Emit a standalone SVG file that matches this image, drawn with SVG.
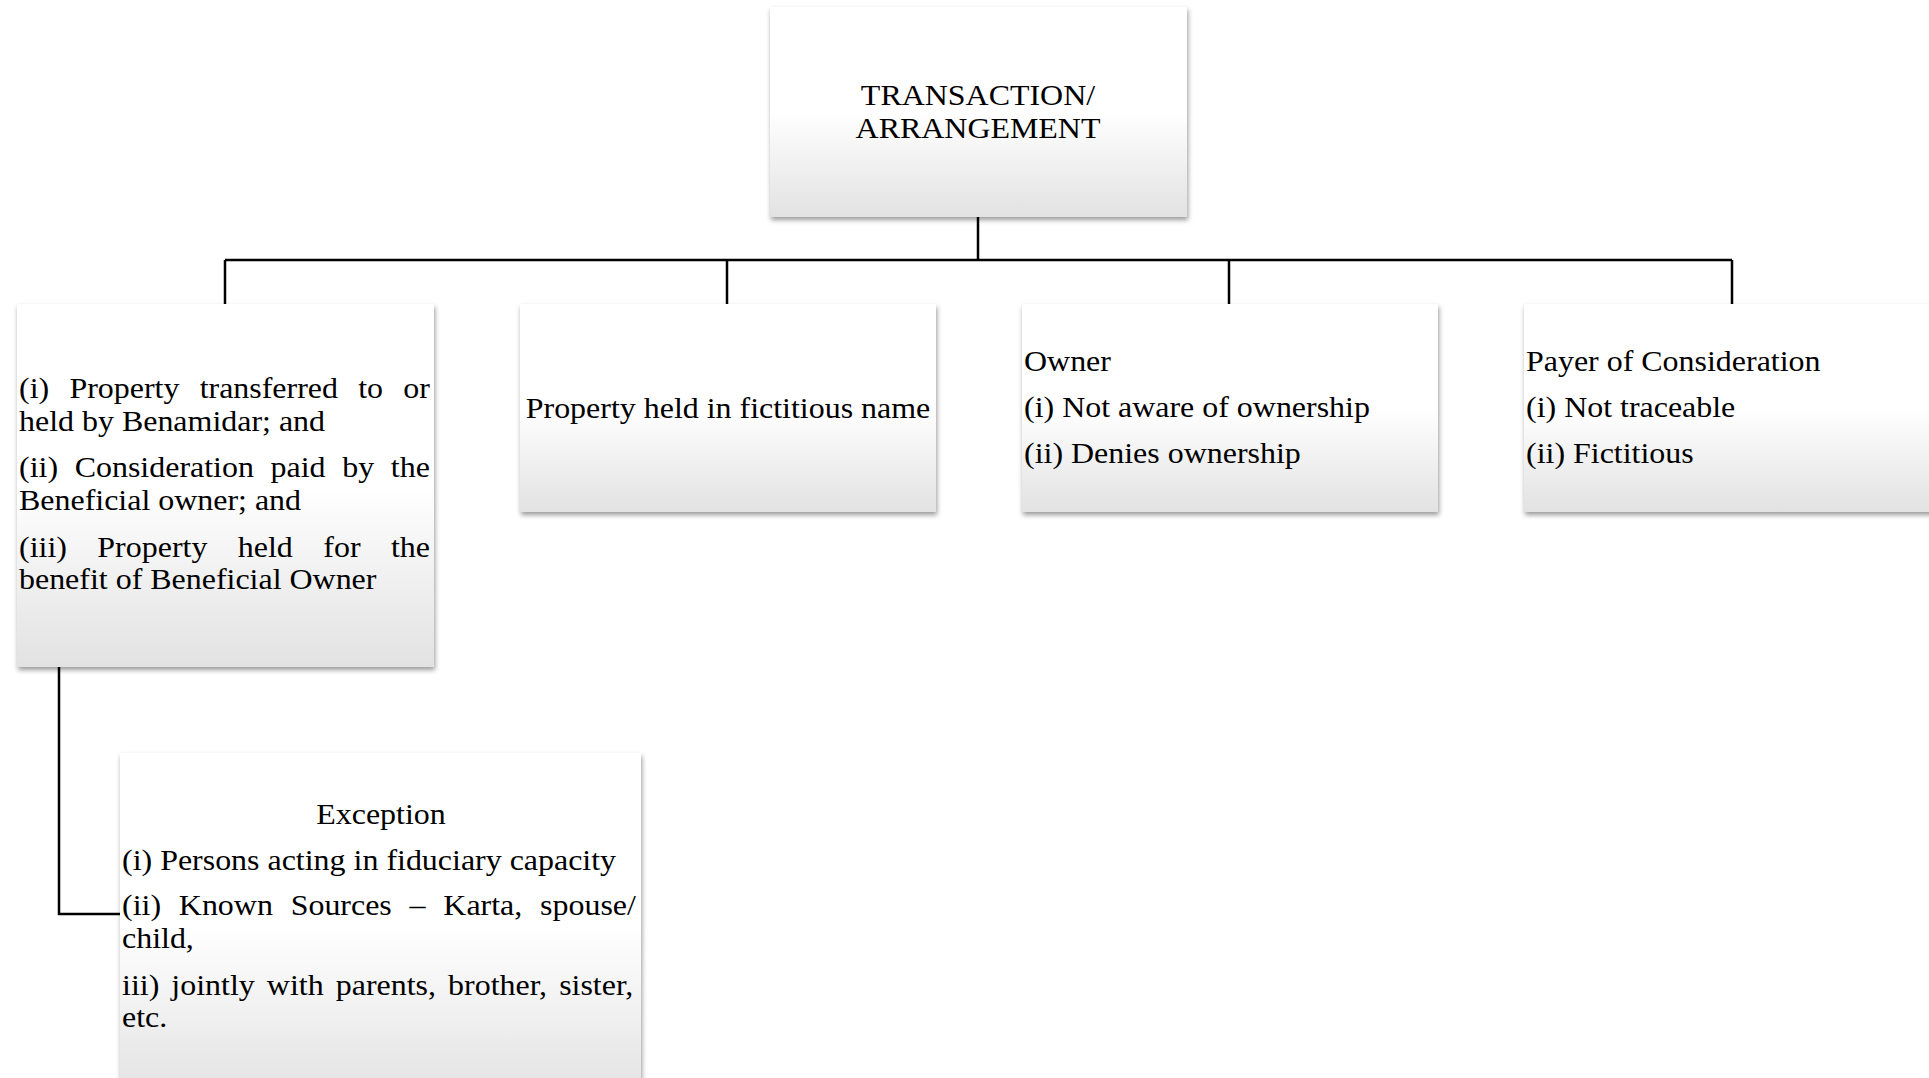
<svg xmlns="http://www.w3.org/2000/svg" width="1929" height="1078" viewBox="0 0 1929 1078">
  <style>
    .box { fill: url(#g); filter: url(#sh); }
    .t { font-family: "Liberation Serif", "Times New Roman", serif; font-size: 30px; fill: #000; }
    .c { text-anchor: middle; }
    .ln { fill: none; stroke: #000; stroke-width: 2.5; }
  </style>
  <defs>
    <linearGradient id="g" x1="0" y1="0" x2="0" y2="1">
      <stop offset="0" stop-color="#ffffff"/>
      <stop offset="0.5" stop-color="#ffffff"/>
      <stop offset="1" stop-color="#e2e2e2"/>
    </linearGradient>
    <filter id="sh" x="-5%" y="-5%" width="110%" height="115%">
      <feDropShadow dx="1" dy="3" stdDeviation="2.5" flood-color="#000" flood-opacity="0.4"/>
    </filter>
  </defs>
  <rect width="1929" height="1078" fill="#fff"/>

  <g id="connectors">
    <path class="ln" d="M978 217 V260"/>
    <path class="ln" d="M225 260 H1732"/>
    <path class="ln" d="M225 260 V304 M727 260 V304 M1229 260 V304 M1732 260 V304"/>
    <path class="ln" d="M59 667 V914 H120"/>
  </g>

  <g id="node-root">
    <rect class="box" x="770" y="7" width="417" height="210"/>
    <text class="t c" transform="matrix(1.065 0 0 1 978 105)">TRANSACTION/</text>
    <text class="t c" transform="matrix(1.065 0 0 1 978 138)">ARRANGEMENT</text>
  </g>

  <g id="node-benami">
    <rect class="box" x="17" y="304" width="417" height="363"/>
    <text class="t" transform="matrix(1.065 0 0 1 19 398)" style="word-spacing:11.5px">(i) Property transferred to or</text>
    <text class="t" transform="matrix(1.065 0 0 1 19 431)">held by Benamidar; and</text>
    <text class="t" transform="matrix(1.065 0 0 1 19 477)" style="word-spacing:8.15px">(ii) Consideration paid by the</text>
    <text class="t" transform="matrix(1.065 0 0 1 19 510)">Beneficial owner; and</text>
    <text class="t" transform="matrix(1.065 0 0 1 19 557)" style="word-spacing:21.1px">(iii) Property held for the</text>
    <text class="t" transform="matrix(1.065 0 0 1 19 589)">benefit of Beneficial Owner</text>
  </g>

  <g id="node-fictitious">
    <rect class="box" x="520" y="304" width="416" height="208"/>
    <text class="t c" transform="matrix(1.065 0 0 1 728 418)">Property held in fictitious name</text>
  </g>

  <g id="node-owner">
    <rect class="box" x="1022" y="304" width="416" height="208"/>
    <text class="t" transform="matrix(1.065 0 0 1 1024 371)">Owner</text>
    <text class="t" transform="matrix(1.065 0 0 1 1024 417)">(i) Not aware of ownership</text>
    <text class="t" transform="matrix(1.065 0 0 1 1024 463)">(ii) Denies ownership</text>
  </g>

  <g id="node-payer">
    <rect class="box" x="1524" y="304" width="417" height="208"/>
    <text class="t" transform="matrix(1.065 0 0 1 1526 371)">Payer of Consideration</text>
    <text class="t" transform="matrix(1.065 0 0 1 1526 417)">(i) Not traceable</text>
    <text class="t" transform="matrix(1.065 0 0 1 1526 463)">(ii) Fictitious</text>
  </g>

  <g id="node-exception">
    <rect class="box" x="120" y="753" width="521" height="345"/>
    <text class="t c" transform="matrix(1.065 0 0 1 381 824)">Exception</text>
    <text class="t" transform="matrix(1.065 0 0 1 122 870)">(i) Persons acting in fiduciary capacity</text>
    <text class="t" transform="matrix(1.065 0 0 1 122 915)" style="word-spacing:9.2px">(ii) Known Sources – Karta, spouse/</text>
    <text class="t" transform="matrix(1.065 0 0 1 122 948)">child,</text>
    <text class="t" transform="matrix(1.065 0 0 1 122 995)" style="word-spacing:3.86px">iii) jointly with parents, brother, sister,</text>
    <text class="t" transform="matrix(1.065 0 0 1 122 1027)">etc.</text>
  </g>
</svg>
